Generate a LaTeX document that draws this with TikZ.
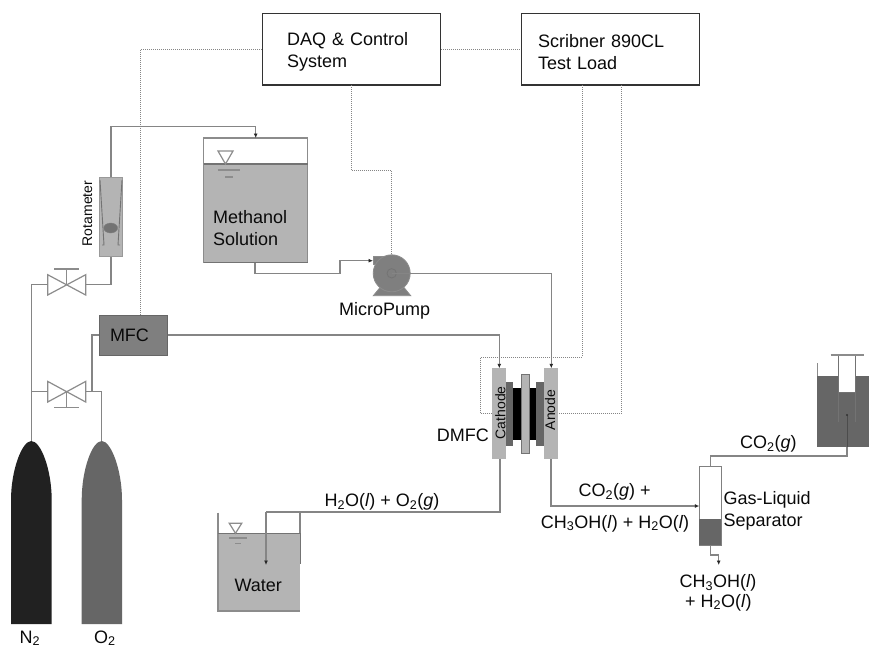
\documentclass[tikz,border=0pt]{standalone}
\usepackage{fontspec}
\setmainfont{Liberation Sans}
\usetikzlibrary{arrows.meta,calc,shapes.geometric}
\definecolor{pipe}{HTML}{858585}
\definecolor{lightfill}{HTML}{B4B4B4}
\definecolor{midfill}{HTML}{7F7F7F}
\definecolor{darkfill}{HTML}{666666}
\definecolor{ink}{HTML}{0A0A0A}
\tikzset{
  x=1pt,y=-1pt,
  big/.style={font=\fontsize{18}{22}\selectfont,text=ink,inner sep=0pt,align=left,anchor=base west},
  small/.style={font=\fontsize{14}{16}\selectfont,text=ink,inner sep=0pt},
  pipeline/.style={draw=pipe,line width=1.2pt},
  flow/.style={pipeline,-{Latex[length=4.5pt,width=4pt,color=black!85]}},
  signal/.style={draw=pipe,line width=1pt,dash pattern=on 1pt off 1pt},
  ctrlbox/.style={draw=black!80,line width=1.3pt,fill=white,inner sep=0pt,font=\fontsize{18}{22}\selectfont,text=ink,align=left},
  vessel/.style={draw=black!45,line width=1.2pt},
}
\begin{document}
\begin{tikzpicture}
\useasboundingbox (0,0) rectangle (869,649);
\fill[white] (0,0) rectangle (869,649);

% signal lines, under the equipment
% control boxes
\node[ctrlbox,minimum width=178pt,minimum height=71.5pt,text width=129pt,inner xsep=24.5pt] (daq) at (351.5,49.25) {\rule{0pt}{19pt}DAQ \& Control\\System};
\node[ctrlbox,minimum width=177.6pt,minimum height=71.5pt,text width=144.6pt,inner xsep=16.5pt] (load) at (610.5,49.25) {\rule{0pt}{19pt}Scribner 890CL\\Test Load};

% MFC
\node[draw=black!60,fill=midfill,line width=1pt,minimum width=67.5pt,minimum height=40pt,inner xsep=10.5pt,text width=46.5pt,align=left,font=\fontsize{18}{22}\selectfont,text=ink] (mfc) at (133.25,335) {MFC};

% rotameter
\node[draw=black!40,fill=lightfill,line width=1pt,minimum width=23pt,minimum height=79pt,inner sep=0pt] (rota) at (111,216.5) {};
\draw[draw=black!55,line width=0.9pt] (100,180) -- (104,245) -- (102,245) (122,180) -- (118,245) -- (120,245);
\node[draw=black!50,fill=black!55,ellipse,minimum width=14pt,minimum height=10pt,inner sep=0pt] (float) at (110.7,228) {};
\node[small,rotate=90] (rotalabel) at (87.5,213.5) {Rotameter};

% methanol tank
\coordinate (tankTL) at (203.5,138);
\coordinate (tankBR) at (307.7,262.7);
\fill[lightfill] (203.5,164) rectangle (tankBR);
\draw[vessel] (tankTL) rectangle (tankBR);
\draw[draw=black!55,line width=1.1pt] (203.5,164) -- (307.7,164) (203.5,262.7) -- (307.7,262.7);
\draw[vessel] (218,151) -- (233,151) -- (225.5,164) -- cycle;
\draw[vessel] (217.7,170) -- (240,170) (225,177) -- (232.7,177);
\node[big] (meth) at (213,245) {Methanol\\Solution};

% pump
\coordinate (pumpC) at (391.7,273.3);
\fill[midfill,draw=black!45,line width=0.8pt] (380.7,286.7) -- (373.3,295.7) -- (410.7,295.7) -- (403.3,286.7) -- cycle;
\fill[midfill,draw=black!45,line width=0.8pt] (373,256) rectangle (386,264);
\node[circle,draw=black!45,fill=midfill,line width=0.8pt,minimum size=37pt,inner sep=0pt] (pump) at (pumpC) {};
\node[circle,draw=black!55,fill=midfill,line width=0.8pt,minimum size=9.4pt,inner sep=0pt] (impeller) at (pumpC) {};
\node[big] (pumplabel) at (339,315) {MicroPump};

% DMFC stack
\node[fill=lightfill,minimum width=14pt,minimum height=90.7pt,inner sep=0pt] (cath) at (499,413.65) {};
\node[fill=lightfill,minimum width=14.3pt,minimum height=90.7pt,inner sep=0pt] (anod) at (551.15,413.65) {};
\fill[darkfill] (506,381.7) rectangle (513.3,446);
\fill[darkfill] (536,381.7) rectangle (544,446);
\fill[black] (513.3,388.3) rectangle (536,440);
\node[draw=black!55,fill=lightfill,line width=0.8pt,minimum width=7.7pt,minimum height=78.6pt,inner sep=0pt] (memb) at (525.2,414) {};
\node[small,rotate=90] (cathlabel) at (500.3,412.7) {Cathode};
\node[small,rotate=90] (anodlabel) at (550,410) {Anode};
\node[big] (dmfc) at (436.7,441.3) {DMFC};

% cylinders
\fill[black!87] (11,624) -- (11,500) .. controls (11,470) and (22,441) .. (31.3,441) .. controls (41,441) and (51.7,470) .. (51.7,500) -- (51.7,624) -- cycle;
\fill[black!60] (81.7,624) -- (81.7,500) .. controls (81.7,470) and (92,441) .. (101.8,441) .. controls (111,441) and (122,470) .. (122,500) -- (122,624) -- cycle;
\coordinate (ntop) at (31.3,441);
\coordinate (otop) at (101.8,441);
\node[big,anchor=base] (nlabel) at (30,643) {N\textsubscript{2}};
\node[big,anchor=base] (olabel) at (105,643) {O\textsubscript{2}};

% valves
\coordinate (v1) at (66.7,284.7);
\coordinate (v2) at (66.7,391.7);
\draw[vessel] (47.7,274.7) -- (85.7,295) -- (85.7,274.7) -- (47.7,295) -- cycle;
\draw[vessel] (v1) -- (66.7,269) (54.3,269) -- (79.3,269);
\draw[vessel] (47.7,381.4) -- (85.7,402) -- (85.7,381.4) -- (47.7,402) -- cycle;
\draw[vessel] (v2) -- (66.7,407.7) (54.3,407.7) -- (79.3,407.7);

% water tank
\fill[lightfill] (218,533.3) rectangle (299.5,611);
\draw[vessel] (218,512.7) -- (218,611) -- (299.5,611);
\draw[draw=black!55,line width=1pt] (218,533.3) -- (299.5,533.3);
\draw[vessel] (229.3,523.3) -- (241.7,523.3) -- (235.5,533.3) -- cycle;
\draw[vessel] (229.3,538) -- (247.3,538) (235,543.7) -- (241.3,543.7);
\node[big] (water) at (234.3,591.7) {Water};

% separator
\node[draw=black!50,fill=white,line width=1pt,minimum width=22pt,minimum height=78.6pt,inner sep=0pt] (sep) at (710.3,506) {};
\fill[darkfill] (699.3,519.3) rectangle (721.3,545.3);
\node[big] (seplabel) at (723.3,526.7) {Gas-Liquid\\Separator};

% bubbler
\fill[darkfill] (817.3,375.7) rectangle (869,447.3);
\fill[white] (838.7,355) rectangle (855.7,392.3);
\draw[vessel] (817.3,363) -- (817.3,375.7);
\draw[draw=black!55,line width=1pt] (838.7,392.3) -- (855.7,392.3) (838.7,355) -- (838.7,421.7) (855.7,355) -- (855.7,421.7);
\draw[vessel] (830.7,355) -- (864,355);
\coordinate (bubble) at (847,415);

% process labels
\node[big] (lab1) at (324.3,506.7) {H\textsubscript{2}O(\textit{l}) + O\textsubscript{2}(\textit{g})};
\node[big] (lab2) at (578.3,496.7) {CO\textsubscript{2}(\textit{g}) +};
\node[big] (lab3) at (540.7,528) {CH\textsubscript{3}OH(\textit{l}) + H\textsubscript{2}O(\textit{l})};
\node[big] (lab4) at (740,448.3) {CO\textsubscript{2}(\textit{g})};
\node[big] (lab5) at (679.3,587.3) {CH\textsubscript{3}OH(\textit{l})};
\node[big] (lab6) at (685,607) {+ H\textsubscript{2}O(\textit{l})};

% pipes
\draw[pipeline] (ntop) -- (31.3,284.7) -- (47.7,284.7);
\draw[pipeline] (85.7,284.7) -- (111,284.7) -- (rota.south);
\draw[flow] (rota.north) -- (111,126.7) -- (255.7,126.7) -- (255.7,138);
\draw[pipeline] (31.3,391.7) -- (47.7,391.7);
\draw[pipeline] (otop) -- (101.8,391.7) -- (85.7,391.7);
\draw[pipeline] (92,391.7) -- (92,335) -- (mfc.west);
\draw[flow] (mfc.east) -- (499.3,335) -- (499.3,368.3);
\draw[flow] (255,262.7) -- (255,273.3) -- (340,273.3) -- (340,260.7) -- (373,260.7);
\draw[flow] (impeller.center) -- (551.3,273.3) -- (551.3,368.3);
\draw[pipeline] (500,459) -- (500,512) -- (266,512) ;
\draw[flow] (266,512) -- (266,565);
\draw[pipeline] (300,512) -- (300,533);
\draw[draw=black!55,line width=1pt] (300,533) -- (300,564);
\draw[flow] (551,459) -- (551,506) -- (699.3,506);
\draw[pipeline] (sep.north) -- (710.3,456) -- (847,456) -- (847,447.3);
\draw[draw=black!70,line width=0.8pt] (847,447.3) -- (bubble);
\fill[black!80] (bubble) circle (1.2);
\draw[flow] (sep.south) -- (710.3,555) -- (718.7,555) -- (718.7,565);

% signal lines
\draw[signal] (daq.west) -- (140.5,49.25) -- (140.5,315);
\draw[signal] (daq.east) -- (load.west);
\draw[signal] (351.5,85) -- (351.5,170.7) -- (391.7,170.7) -- (391.7,255);
\draw[signal] (582,85) -- (582,357) -- (480.7,357) -- (480.7,413.7) -- (492,413.7);
\draw[signal] (621.3,85) -- (621.3,413.7) -- (558.3,413.7);
\end{tikzpicture}
\end{document}
